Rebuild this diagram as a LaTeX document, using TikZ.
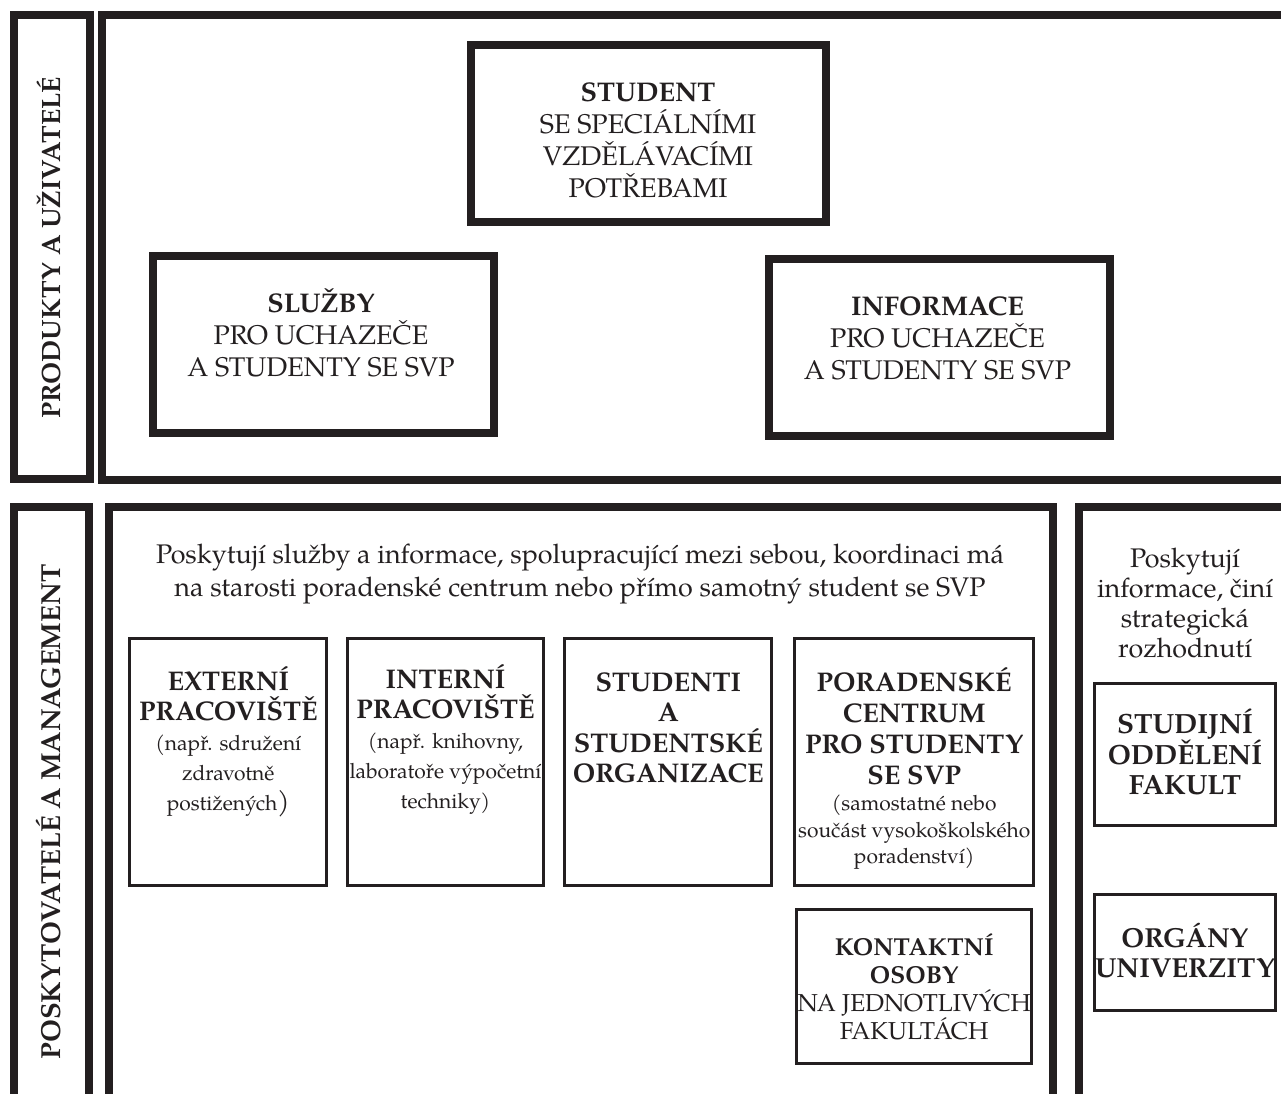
\documentclass[tikz,border=0pt]{standalone}
\usepackage{fontspec}
\setmainfont{TeX Gyre Pagella}
\definecolor{ink}{HTML}{231F20}
\newcommand{\fz}[2]{\fontsize{#1}{#2}\selectfont}
\tikzset{
  thickbox/.style={draw=ink, line width=8pt, rectangle, inner sep=0pt, line join=miter},
  thinbox/.style={draw=ink, line width=3pt, rectangle, inner sep=0pt},
  frame/.style={draw=ink, line width=8pt, line join=miter},
  txt/.style={text=ink, align=center, inner sep=0pt},
}
\begin{document}
\begin{tikzpicture}[x=1pt,y=-1pt]
\useasboundingbox (0,0) rectangle (1281,1093);
\clip (0,0) rectangle (1281,1093);

% ---------- top section ----------
\node[thickbox, minimum width=76pt, minimum height=464pt] (labtop) at (51.5,247) {};
\node[txt, rotate=90, font=\fz{26.5}{30}\bfseries] (labtoptext) at (49,248) {PRODUKTY A UŽIVATELÉ};
\coordinate (tA) at (1290,15);
\coordinate (tB) at (101.5,15);
\coordinate (tC) at (101.5,479.5);
\coordinate (tD) at (1290,479.5);
\draw[frame] (tA) -- (tB) -- (tC) -- (tD);

\node[thickbox, minimum width=355.5pt, minimum height=177pt] (student) at (648.25,133.5) {};
\node[txt, font=\fz{27}{32}] (studenttext) at (648,140.5)
  {{\bfseries STUDENT}\\SE SPECIÁLNÍMI\\VZDĚLÁVACÍMI\\POTŘEBAMI};

\node[thickbox, minimum width=341.5pt, minimum height=176.5pt] (sluzby) at (323.25,344.25) {};
\node[txt, font=\fz{27}{32}] (sluzbytext) at (321,333)
  {{\bfseries SLUŽBY}\\PRO UCHAZEČE\\A STUDENTY SE SVP};

\node[thickbox, minimum width=341pt, minimum height=176.5pt] (info) at (939.5,347.25) {};
\node[txt, font=\fz{27}{32}] (infotext) at (937.5,338)
  {{\bfseries INFORMACE}\\PRO UCHAZEČE\\A STUDENTY SE SVP};

% ---------- bottom section ----------
\coordinate (lA) at (13.5,1100);
\coordinate (lB) at (13.5,506.5);
\coordinate (lC) at (89,506.5);
\coordinate (lD) at (89,1100);
\draw[frame] (lA) -- (lB) -- (lC) -- (lD);
\node[txt, rotate=90, font=\fz{27.5}{30}\bfseries] (labbottext) at (49,812) {POSKYTOVATELÉ A MANAGEMENT};

\coordinate (mA) at (109,1100);
\coordinate (mB) at (109,507);
\coordinate (mC) at (1052.5,507);
\coordinate (mD) at (1052.5,1100);
\draw[frame] (mA) -- (mB) -- (mC) -- (mD);

\coordinate (rA) at (1079,1100);
\coordinate (rB) at (1079,507);
\coordinate (rC) at (1290,507);
\draw[frame] (rA) -- (rB) -- (rC);

\node[txt, font=\fz{26.9}{33}] (maintext) at (580,574)
  {Poskytují služby a informace, spolupracující mezi sebou, koordinaci má\\na starosti poradenské centrum nebo přímo samotný student se SVP};

\node[thinbox, minimum width=197pt, minimum height=247pt] (ext) at (228.3,761.7) {};
\node[txt, font=\fz{21}{30}] (exttext) at (228.3,742)
  {{\fz{27}{30}\bfseries EXTERNÍ}\\{\fz{27}{30}\bfseries PRACOVIŠTĚ}\\(např. sdružení\\zdravotně\\postižených{\fz{27}{30})}};

\node[thinbox, minimum width=196pt, minimum height=247pt] (int) at (445.5,761.7) {};
\node[txt, font=\fz{21}{30}] (inttext) at (445.5,740)
  {{\fz{27}{30}\bfseries INTERNÍ}\\{\fz{27}{30}\bfseries PRACOVIŠTĚ}\\(např. knihovny,\\laboratoře výpočetní\\techniky)};

\node[thinbox, minimum width=207pt, minimum height=247pt] (stud) at (668.3,761.7) {};
\node[txt, font=\fz{27}{30.5}\bfseries] (studtext) at (668.3,728)
  {STUDENTI\\A\\STUDENTSKÉ\\ORGANIZACE};

\node[thinbox, minimum width=238.7pt, minimum height=247pt] (porad) at (914.2,761.7) {};
\node[txt, font=\fz{27}{31}\bfseries] (poradtitle) at (914.2,726.7)
  {PORADENSKÉ\\CENTRUM\\PRO STUDENTY\\SE SVP};
\node[txt, font=\fz{21}{26.5}] (poradsub) at (914.2,832.6)
  {(samostatné nebo\\součást vysokoškolského\\poradenství)};

\node[thinbox, minimum width=235.3pt, minimum height=153.7pt] (kontakt) at (914.2,986.7) {};
\node[txt, font=\fz{24.5}{28}] (kontakttext) at (914.2,987)
  {{\bfseries KONTAKTNÍ}\\{\bfseries OSOBY}\\NA JEDNOTLIVÝCH\\FAKULTÁCH};

\node[txt, font=\fz{26.9}{30}] (righttext) at (1185,603)
  {Poskytují\\informace, činí\\strategická\\rozhodnutí};

\node[thinbox, minimum width=181pt, minimum height=142pt] (studijni) at (1185,754.2) {};
\node[txt, font=\fz{27.8}{30}\bfseries] (studijnitext) at (1185,752)
  {STUDIJNÍ\\ODDĚLENÍ\\FAKULT};

\node[thinbox, minimum width=180.7pt, minimum height=116pt] (organy) at (1184.8,952.2) {};
\node[txt, font=\fz{27.5}{30}\bfseries] (organytext) at (1184.8,951)
  {ORGÁNY\\UNIVERZITY};
\end{tikzpicture}
\end{document}
